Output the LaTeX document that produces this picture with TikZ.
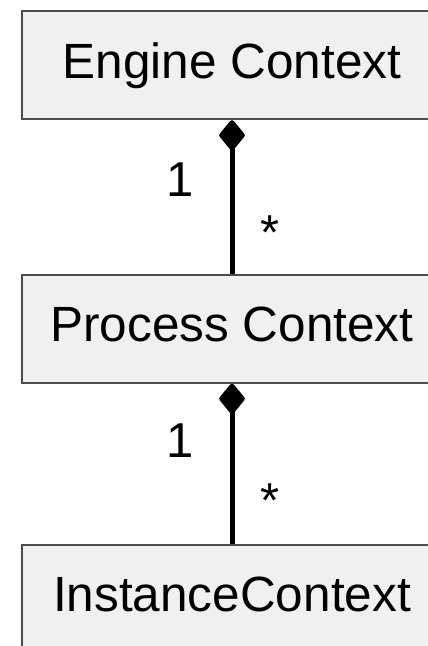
\documentclass[tikz,border=0pt]{standalone}
\usepackage{fontspec}
\setmainfont{Liberation Sans}
\usetikzlibrary{arrows.meta}
\begin{document}
\begin{tikzpicture}[x=1pt,y=-1pt,
  classbox/.style={draw=black!70, line width=2.2pt, fill=black!6,
    minimum width=420pt, minimum height=108pt, inner sep=0pt,
    text height=35pt, text depth=9pt, anchor=north,
    font=\fontsize{49.5}{56}\selectfont},
  composition/.style={line width=5pt, line join=round,
    {Diamond[length=33pt, width=27pt, line join=round]}-},
  mult/.style={anchor=base, inner sep=0pt, font=\fontsize{49}{56}\selectfont}]
  \useasboundingbox (0,0) rectangle (428,646);
  \clip (0,0) rectangle (428,646);
  \fill[white] (0,0) rectangle (428,646);

  % classes
  \node[classbox] (ec) at (232,10) {Engine Context};
  \node[classbox] (pc) at (232,273.5) {Process Context};
  \node[classbox] (ic) at (232,543.5) {InstanceContext};

  % composition associations
  \draw[composition] (ec.south) -- (pc.north);
  \draw[composition] (pc.south) -- (ic.north);

  % multiplicities
  \node[mult] (m1a) at (180,196) {1};
  \node[mult] (m1b) at (270,249) {*};
  \node[mult] (m2a) at (180,457) {1};
  \node[mult] (m2b) at (270,517) {*};
\end{tikzpicture}
\end{document}
